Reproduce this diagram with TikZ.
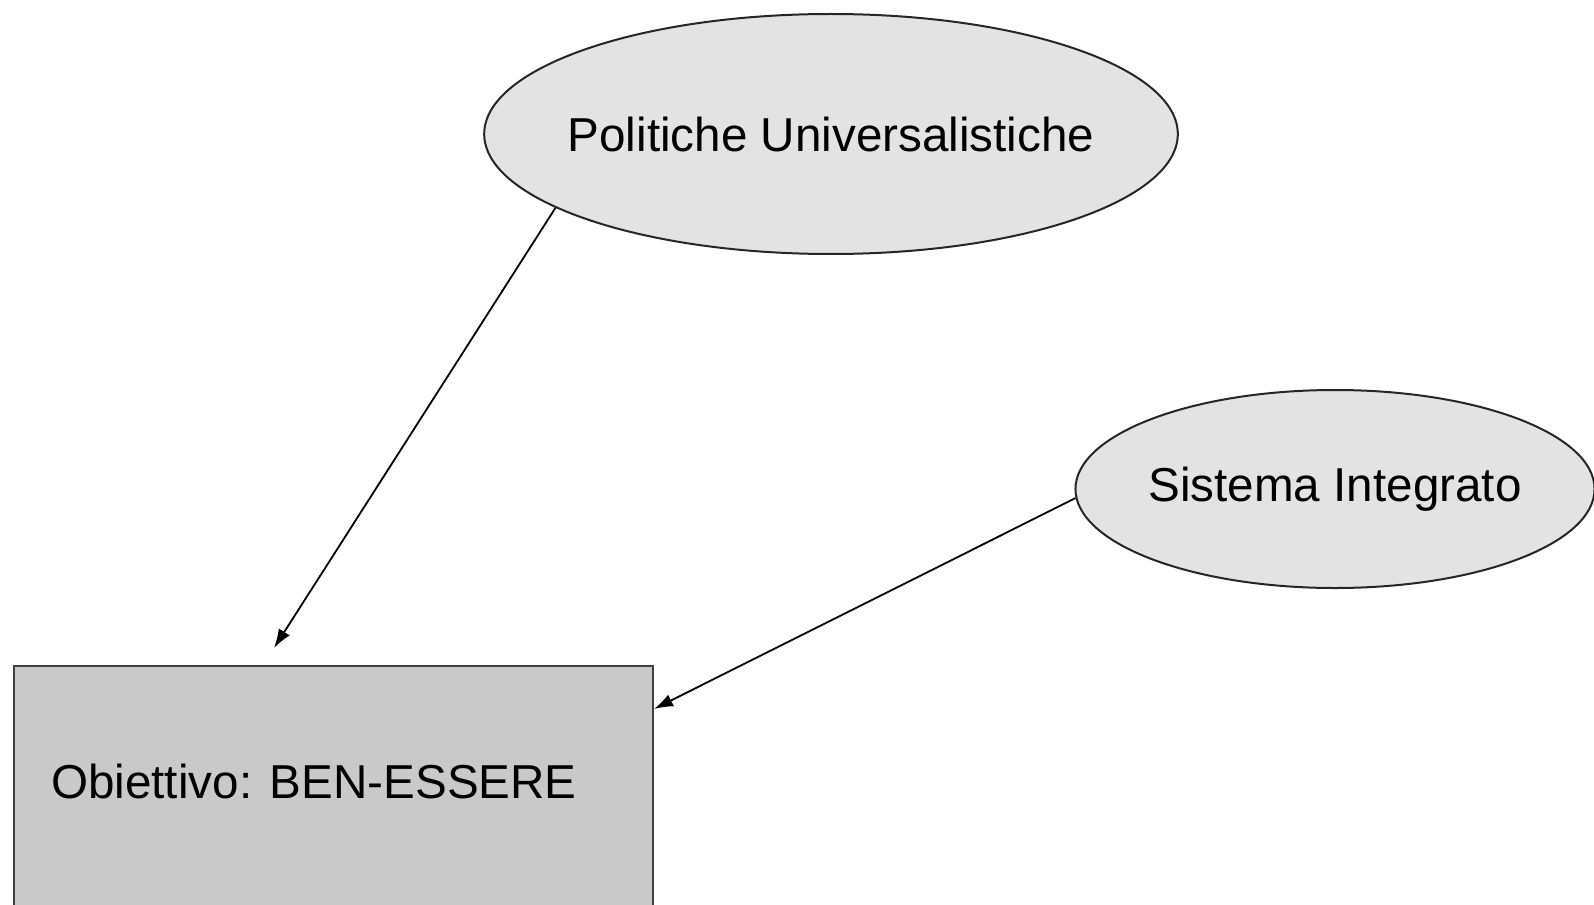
\documentclass[tikz,border=0pt]{standalone}
\usepackage{fontspec}
\setmainfont{Liberation Sans}
\usetikzlibrary{shapes.geometric, arrows.meta}

\tikzset{
    bubble/.style = {ellipse, draw = black!85, line width = 2pt, fill = gray!22, inner ysep = 0pt},
    goalbox/.style = {rectangle, draw = black!75, line width = 2pt, fill = gray!42, inner sep = 0pt},
    arr/.style = {-{Latex[length = 19pt, width = 13pt]}, line width = 1.8pt}
}

\begin{document}
\begin{tikzpicture}[x = 1pt, y = -1pt, font = \fontsize{47.6}{57}\selectfont]
    \useasboundingbox (0, 0) rectangle (1594, 904);

    % the ellipse shape grows with its text, so a negative xsep keeps the sizes
    \node [bubble, inner xsep = -18pt, minimum height = 240pt] (pu) at (831, 134) {Politiche Universalistiche};
    \node [bubble, inner xsep = -3pt, minimum height = 198pt] (si) at (1335, 489) {Sistema Integrato};
    \node [goalbox, anchor = north west, minimum width = 639pt, minimum height = 300pt] (goal) at (13, 665) {};
    \node [anchor = west, inner sep = 0pt] (goaltext) at (51, 781) {Obiettivo: BEN-ESSERE};

    \coordinate (putip) at (274, 648);
    \coordinate (situp) at (654, 709);

    \draw [arr] (pu.195.6) -- (putip);
    \draw [arr] (si.182) -- (situp);
\end{tikzpicture}
\end{document}
